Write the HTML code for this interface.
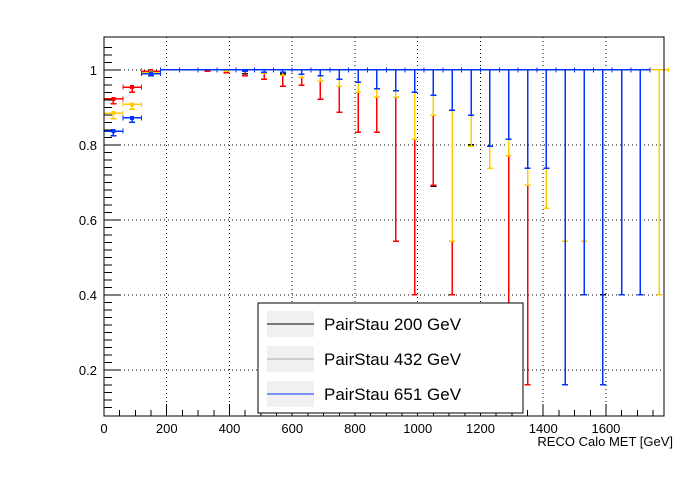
<!DOCTYPE html>
<html><head><meta charset="utf-8"><style>
body{margin:0;background:#fff;}
svg text{font-family:"Liberation Sans",Arial,sans-serif;}
svg line,svg rect{shape-rendering:crispEdges;}
</style></head><body>
<svg id="c" width="698" height="474" xmlns="http://www.w3.org/2000/svg"></svg>
<script>
const binWidth = 60;
const xTicks = [0,200,400,600,800,1000,1200,1400,1600];
const yTicks = [0.2,0.4,0.6,0.8,1];
const seriesNames = ["PairStau 200 GeV","PairStau 432 GeV","PairStau 651 GeV"];
// efficiency values for first bins (rest are 1)
const redVals = [0.923,0.954,0.997];
const yellowVals = [0.885,0.908,0.993];
const blueVals = [0.837,0.872,0.99];
// lower error bound per bin index (null = no visible bar)
const blackLow = [null,null,null,null,null,null,0.996,0.99,null,0.99,null,null,null,null,null,null,null,0.69,null,0.8,null,null,0.16,null,0.16,null,0.4,null,null,null];
const redLow = [0.91,0.94,0.993,null,null,0.997,0.993,0.985,0.975,0.957,0.959,0.922,0.887,0.834,0.834,0.543,0.40,0.692,0.40,null,null,0.37,0.16,null,null,null,null,null,null,null];
const yellowLow = [0.87,0.895,0.988,null,null,null,0.996,null,0.991,0.986,0.98,0.97,0.957,0.94,0.927,0.927,0.815,0.879,0.543,0.797,0.738,0.771,0.692,0.631,0.543,0.543,null,null,null,0.40];
const blueLow = [0.825,0.86,0.985,null,null,null,null,0.996,0.994,0.994,0.989,0.985,0.975,0.967,0.95,0.945,0.94,0.933,0.893,0.879,0.797,0.815,0.738,0.738,0.16,0.40,0.16,0.40,0.40,null];

const X0=104,X1=664,Y0=37,Y1=416,XMAX=1785,YMIN=0.0773,YMAX=1.088;
const sx=v=>X0+(v/XMAX)*(X1-X0);
const sy=v=>Y1-(v-YMIN)/(YMAX-YMIN)*(Y1-Y0);
const svg=document.getElementById('c');
const NS='http://www.w3.org/2000/svg';
function mk(t,a,p){const e=document.createElementNS(NS,t);for(const k in a)e.setAttribute(k,a[k]);(p||svg).appendChild(e);return e;}
function line(x1,y1,x2,y2,st,w,da,p){return mk('line',{x1,y1,x2,y2,stroke:st,'stroke-width':w||1,'stroke-dasharray':da||'none'},p);}

const grid=mk('g',{});


xTicks.forEach(t=>{if(t>0)line(sx(t),Y0,sx(t),Y1,'#000',1,'1,3',grid);});
yTicks.forEach(t=>line(X0,sy(t),X1,sy(t),'#000',1,'1,3',grid));

const colors=['#000','#ff0000','#ffcc00','#0033ff'];
const vals=[null,redVals,yellowVals,blueVals];
const lows=[blackLow,redLow,yellowLow,blueLow];
const names=['series-200-black','series-200','series-432','series-651'];
const lastBin=[27,22,29,28];
for(let s=0;s<4;s++){
  const g=mk('g',{});
  
  
  const c=colors[s];
  for(let k=0;k<30;k++){
    const lo=lows[s][k];
    let v=1;
    if(k<3){ if(!vals[s]) continue; v=vals[s][k]; }
    else if(lo===null && (s===0||k>lastBin[s])) continue;
    const xc=sx(binWidth*k+binWidth/2), xl=sx(binWidth*k), xr=sx(binWidth*(k+1));
    const y=sy(v);
    if(s>0 && k<=lastBin[s]){
      line(xl,y,xr,y,c,1.5,null,g);
      line(xl,y-2.5,xl,y+2.5,c,1,null,g);
      line(xr,y-2.5,xr,y+2.5,c,1,null,g);
    }
    if(lo!==null){
      const yl=sy(lo);
      line(xc,y,xc,yl,c,1.5,null,g);
      line(xc-3,yl,xc+3,yl,c,1.5,null,g);
    }
    if(k<3){ mk('rect',{x:xc-2,y:y-2,width:4,height:4,fill:c},g); }
  }
}

const ax=mk('g',{});


mk('rect',{x:X0,y:Y0,width:X1-X0,height:Y1-Y0,fill:'none',stroke:'#000','stroke-width':1},ax);
for(let t=0;t<=XMAX;t+=50){const maj=t%200===0;const L=maj?12:6;line(sx(t),Y1,sx(t),Y1-L,'#000',1,null,ax);}
for(let t=0.1;t<=1.08;t+=0.02){const r=Math.round(t*100);const maj=r%20===0;line(X0,sy(t),X0+(maj?16:8),sy(t),'#000',1,null,ax);}
xTicks.forEach(t=>{const e=mk('text',{x:sx(t),y:433,'font-size':13,'text-anchor':'middle'},ax);e.textContent=t;});
yTicks.forEach(t=>{const e=mk('text',{x:97,y:sy(t)+5,'font-size':13,'text-anchor':'end'},ax);e.textContent=t;});
const xt=mk('text',{x:673,y:446,'font-size':13,'text-anchor':'end'});


xt.textContent='RECO Calo MET [GeV]';

const lg=mk('g',{});


mk('rect',{x:258,y:303,width:265,height:110,fill:'#fff',stroke:'#000','stroke-width':1},lg);
const lc=['#000','#aaa','#0033ff'];
seriesNames.forEach((n,i)=>{
  const yy=324+i*35;
  const e=mk('g',{},lg);
  
  
  mk('rect',{x:267,y:yy-13,width:47,height:26,fill:'#f0f0f0'},e);
  line(267,yy,314,yy,lc[i],1,null,e);
  const t=mk('text',{x:324,y:yy+6,'font-size':17},e);t.textContent=n;
});
</script>
</body></html>
